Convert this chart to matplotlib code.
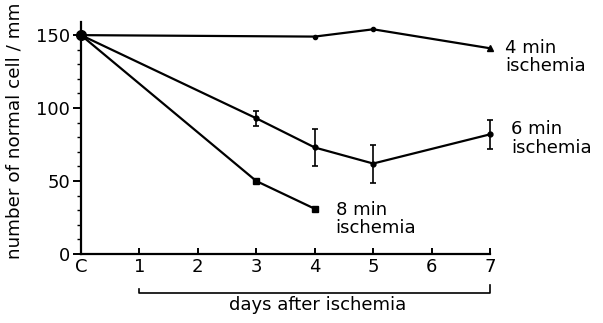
import matplotlib
matplotlib.use("Agg")
import matplotlib.pyplot as plt
from matplotlib.ticker import MultipleLocator
from matplotlib.transforms import blended_transform_factory

plt.rcParams['font.family'] = ['DejaVu Sans']

tick_labels = ["C", "1", "2", "3", "4", "5", "6", "7"]

x4 = [0, 4, 5, 7]
y4 = [150, 149, 154, 141]

x6 = [0, 3, 4, 5, 7]
y6 = [150, 93, 73, 62, 82]
e6 = [0, 5, 13, 13, 10]

x8 = [0, 3, 4]
y8 = [150, 50, 31]

fig = plt.figure(figsize=(6.03, 3.23), dpi=100)
ax = fig.add_axes([81/603, 1-254/323, (490-81)/603, (254-22)/323])

lw = 1.6
ax.plot(x4[:-1], y4[:-1], color='black', lw=lw, marker='o', ms=3, clip_on=False, zorder=3)
ax.plot(x4[-2:], y4[-2:], color='black', lw=lw, clip_on=False)
ax.plot(x4[-1:], y4[-1:], color='black', marker='^', ms=5, ls='none', clip_on=False)
ax.errorbar(x6, y6, yerr=e6, color='black', lw=lw, marker='o', ms=3.5,
            elinewidth=1.2, capsize=2.5, capthick=1.2, clip_on=False)
ax.plot(x8, y8, color='black', lw=lw, marker='s', ms=4, clip_on=False)
ax.plot([0], [150], color='black', marker='o', ms=7, clip_on=False, zorder=4)

ax.set_xlim(0, 7)
ax.set_ylim(0, 159)
ax.set_xticks(range(8))
ax.set_xticklabels(tick_labels)
ax.set_yticks([0, 50, 100, 150])
ax.yaxis.set_minor_locator(MultipleLocator(10))
ax.spines['top'].set_visible(False)
ax.spines['right'].set_visible(False)
for s in ['left', 'bottom']:
    ax.spines[s].set_linewidth(1.6)
ax.tick_params(axis='y', which='major', direction='out', length=6, width=1.4, labelsize=13, pad=2)
ax.tick_params(axis='y', which='minor', direction='out', length=3, width=1.0)
ax.tick_params(axis='x', which='major', direction='in', length=4, width=1.4, labelsize=13, pad=3)

ax.set_ylabel("number of normal cell / mm", fontsize=13.2)
ax.yaxis.set_label_coords(-0.14, 0.53)

tr = blended_transform_factory(ax.transData, ax.transAxes)
ax.plot([1, 1, 7, 7], [-0.15, -0.168, -0.168, -0.134], color='black', lw=1.2,
        transform=tr, clip_on=False)
ax.text(4.05, -0.183, "days after ischemia", transform=tr, ha='center', va='top', fontsize=13)

fs = 13
ax.text(7.26, 135, "4 min\nischemia", ha='left', va='center', fontsize=fs, linespacing=1.05)
ax.text(7.36, 79, "6 min\nischemia", ha='left', va='center', fontsize=fs, linespacing=1.05)
ax.text(4.36, 24, "8 min\nischemia", ha='left', va='center', fontsize=fs, linespacing=1.05)

fig.savefig("out.png", dpi=100)
